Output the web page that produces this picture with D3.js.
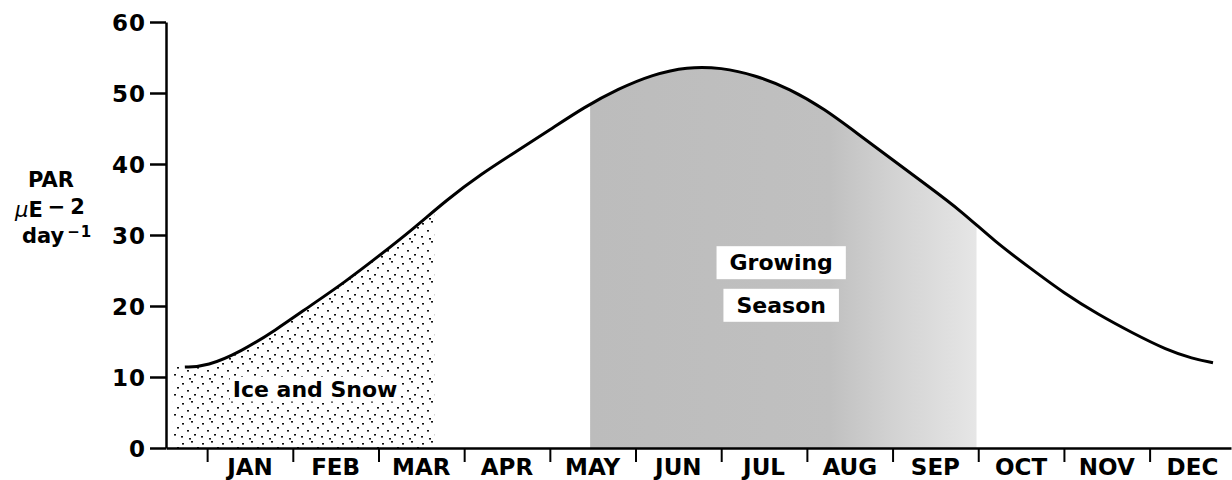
<!DOCTYPE html>
<html>
<head>
<meta charset="utf-8">
<script src="https://cdn.jsdelivr.net/npm/d3@7"></script>
<style>
body { margin: 0; background: #fff; }
text { font-family: "DejaVu Sans", "Liberation Sans", Arial, sans-serif; font-weight: bold; fill: #000; }
.axis path, .axis line { stroke: #000; }
</style>
</head>
<body>
<div id="chart"></div>
<script>
var width = 1232;
var height = 480;

// month names, one label per month band
var months = ['JAN', 'FEB', 'MAR', 'APR', 'MAY', 'JUN', 'JUL', 'AUG', 'SEP', 'OCT', 'NOV', 'DEC'];
// position in the year, in months counted from the start of January
var monthPos = [-0.26, 0.0, 0.4, 0.8, 1.2, 1.6, 2.0, 2.4, 2.8, 3.2, 3.6, 4.0, 4.4, 4.8, 5.2, 5.6,
                6.0, 6.4, 6.8, 7.2, 7.6, 8.0, 8.4, 8.8, 9.2, 9.6, 10.0, 10.4, 10.8, 11.2, 11.5, 11.74];
// PAR, uE m-2 day-1
var par = [11.4, 11.5, 13.6, 16.6, 20.0, 23.3, 27.0, 30.8, 35.0, 38.6, 41.7, 44.8, 48.0, 50.6, 52.6, 53.7,
           53.6, 52.5, 50.6, 47.8, 44.2, 40.6, 37.0, 33.4, 29.0, 25.4, 21.8, 18.8, 16.2, 13.8, 12.6, 12.0];
var yTicks = [0, 10, 20, 30, 40, 50, 60];
// shaded periods, [start, end] in months
var iceSnow = [-0.4, 2.65];
var growingSeason = [4.47, 8.98];

var svg = d3.select('#chart')
    .append('svg')
    .attr('width', width)
    .attr('height', height);

var x = d3.scaleLinear().domain([-0.48, 11.95]).range([166, 1231]);
var y = d3.scaleLinear().domain([0, 60]).range([448, 22]);

var points = monthPos.map(function(m, i) { return {m: m, v: par[i]}; });

var defs = svg.append('defs');

// stipple for ice and snow
var stip = defs.append('pattern')
    .attr('id', 'stipple')
    .attr('patternUnits', 'userSpaceOnUse')
    .attr('width', 20).attr('height', 20);
var dots = [[2,3],[11,1],[17,7],[7,10],[14,14],[1,16],[9,18]];
stip.selectAll('rect').data(dots).enter().append('rect')
    .attr('x', function(d) { return d[0]; })
    .attr('y', function(d) { return d[1]; })
    .attr('width', 2).attr('height', 1.6)
    .attr('fill', '#111');

// grey screen for the growing season, lighter at its end
var grad = defs.append('linearGradient')
    .attr('id', 'grow')
    .attr('gradientUnits', 'userSpaceOnUse')
    .attr('x1', x(growingSeason[0])).attr('x2', x(growingSeason[1]))
    .attr('y1', 0).attr('y2', 0);
grad.append('stop').attr('offset', '0%').attr('stop-color', '#bcbcbc');
grad.append('stop').attr('offset', '62%').attr('stop-color', '#c0c0c0');
grad.append('stop').attr('offset', '78%').attr('stop-color', '#d2d2d2');
grad.append('stop').attr('offset', '100%').attr('stop-color', '#e6e6e6');

defs.append('clipPath').attr('id', 'clipIce')
    .append('rect')
    .attr('x', x(iceSnow[0])).attr('y', 0)
    .attr('width', x(iceSnow[1]) - x(iceSnow[0])).attr('height', y(0));
defs.append('clipPath').attr('id', 'clipGrow')
    .append('rect')
    .attr('x', x(growingSeason[0])).attr('y', 0)
    .attr('width', x(growingSeason[1]) - x(growingSeason[0])).attr('height', y(0));

var area = d3.area()
    .x(function(d) { return x(d.m); })
    .y0(y(0))
    .y1(function(d) { return y(d.v); })
    .curve(d3.curveBasis);

// extend the stipple to the axis at the left
var icePoints = [{m: iceSnow[0], v: par[0]}].concat(points);

svg.append('path')
    .attr('d', area(icePoints))
    .attr('fill', 'url(#stipple)')
    .attr('clip-path', 'url(#clipIce)');

svg.append('path')
    .attr('d', area(points))
    .attr('fill', 'url(#grow)')
    .attr('clip-path', 'url(#clipGrow)');

var line = d3.line()
    .x(function(d) { return x(d.m); })
    .y(function(d) { return y(d.v); })
    .curve(d3.curveBasis);

svg.append('path')
    .attr('d', line(points))
    .attr('fill', 'none')
    .attr('stroke', '#000')
    .attr('stroke-width', 3);

// labels inside the plot
function boxedLabel(txt, m, v, size, pad) {
    var g = svg.append('g');
    var t = g.append('text')
        .attr('x', x(m)).attr('y', y(v))
        .attr('text-anchor', 'middle')
        .attr('dominant-baseline', 'central')
        .style('font-size', size + 'px')
        .text(txt);
    var bb = t.node().getBBox();
    g.insert('rect', 'text')
        .attr('x', bb.x - pad[0]).attr('y', bb.y - pad[1])
        .attr('width', bb.width + 2*pad[0]).attr('height', bb.height + 2*pad[1])
        .attr('fill', '#fff');
}
boxedLabel('Ice and Snow', 1.26, 8.3, 22, [3, 0]);
boxedLabel('Growing', 6.7, 26.1, 22, [13, 4]);
boxedLabel('Season', 6.7, 20.1, 22, [13, 4]);

// axes
var yAxis = d3.axisLeft(y).tickValues(yTicks).tickSize(16).tickSizeOuter(0).tickPadding(4);
var gy = svg.append('g')
    .attr('class', 'y axis')
    .attr('transform', 'translate(' + x(-0.48) + ',0)')
    .call(yAxis);
gy.selectAll('path, line').attr('stroke-width', 2.5);
gy.selectAll('text')
    .style('font-size', '23px')
    .style('letter-spacing', '1px')
    .attr('dy', '0.36em');

var xAxis = d3.axisBottom(x).tickValues(d3.range(0, 12)).tickSize(14).tickSizeOuter(0).tickFormat('');
var gx = svg.append('g')
    .attr('class', 'x axis')
    .attr('transform', 'translate(0,' + y(0) + ')')
    .call(xAxis);
gx.select('path').attr('stroke-width', 2.5);
gx.selectAll('line').attr('stroke-width', 2);

gx.selectAll('text.month')
    .data(months)
    .enter().append('text')
    .attr('class', 'month')
    .attr('x', function(d, i) { return x(i + 0.5); })
    .attr('y', 27)
    .attr('text-anchor', 'middle')
    .style('font-size', '23px')
    .text(function(d) { return d; });

// y axis title
var title = svg.append('g').attr('class', 'ytitle');
title.append('text')
    .attr('x', 51).attr('y', 187)
    .attr('text-anchor', 'middle')
    .style('font-size', '21px')
    .text('PAR');
var t2 = title.append('text')
    .attr('x', 15).attr('y', 217)
    .style('font-size', '21px');
t2.append('tspan').style('font-style', 'italic').style('font-weight', 'normal').text('\u03bc');
t2.append('tspan').text('E');
t2.append('tspan').attr('dx', 5).attr('dy', -3).text('\u2212');
t2.append('tspan').attr('dx', 5).text('2');
var t3 = title.append('text')
    .attr('x', 22).attr('y', 243)
    .style('font-size', '21px');
t3.append('tspan').text('day');
t3.append('tspan').attr('dx', 3).attr('dy', -6).style('font-size', '15px').text('\u2212');
t3.append('tspan').attr('dx', 1).style('font-size', '15px').text('1');
</script>
</body>
</html>
